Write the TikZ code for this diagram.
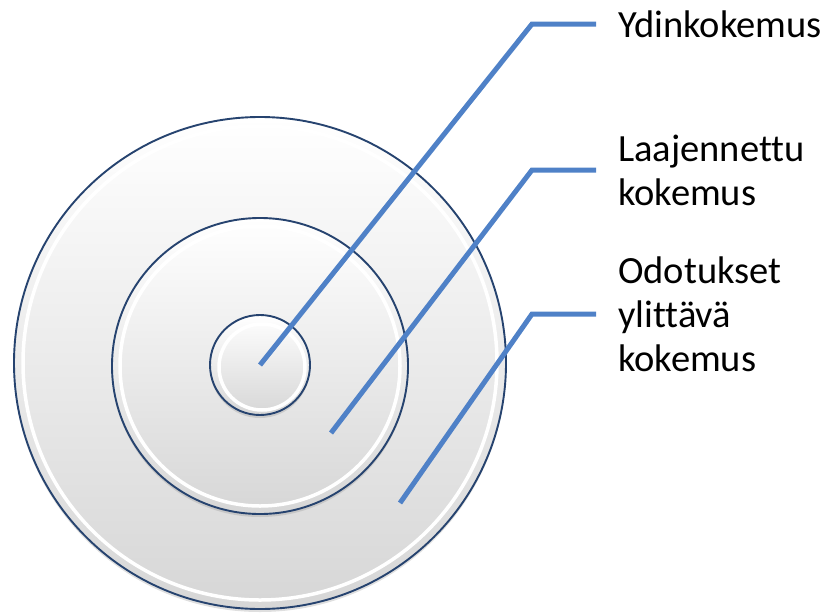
\documentclass[tikz,border=0pt]{standalone}
\usepackage{fontspec}
\setmainfont[Ligatures=NoCommon]{Carlito}
\usetikzlibrary{positioning,calc,shadows}
\definecolor{rim}{HTML}{26436F}
\definecolor{lead}{HTML}{4F81C7}
\tikzset{
  disc/.style={circle,draw=rim,line width=1.9pt,top color=white,bottom color=gray!32,inner sep=0pt,
    drop shadow={opacity=0.25,shadow xshift=0pt,shadow yshift=-3pt}},
  bevel/.style={circle,draw=white,line width=3.5pt,inner sep=0pt},
  leader/.style={draw=lead,line width=5pt},
  caption/.style={font=\fontsize{38.5}{44}\selectfont,align=left,inner sep=0pt},
}
\begin{document}
\begin{tikzpicture}[x=1pt,y=-1pt]
\useasboundingbox (0,0) rectangle (832,613);

% rings
\node[disc,minimum size=492pt] (outer) at (260,363) {};
\node[bevel,minimum size=474pt] (outerbevel) at (260,363) {};
\node[disc,minimum size=296pt] (middle) at (260,366) {};
\node[bevel,minimum size=280pt] (middlebevel) at (260,366) {};
\node[disc,minimum size=100pt] (inner) at (260,365) {};
\node[bevel,minimum size=86pt] (innerbevel) at (262,367) {};

% leader end points
\coordinate (corepin) at (260,365);
\coordinate (widepin) at (331,433);
\coordinate (beyondpin) at (400,503);
\coordinate (corebend) at (532,24);
\coordinate (widebend) at (532,170);
\coordinate (beyondbend) at (532,314);
\coordinate (coretip) at (596,24);
\coordinate (widetip) at (596,170);
\coordinate (beyondtip) at (596,314);

% captions
\node[caption,right=22pt of coretip] (corelbl) {Ydinkokemus};
\node[caption,right=22pt of widetip] (widelbl) {Laajennettu\\kokemus};
\node[caption,right=22pt of beyondtip] (beyondlbl) {Odotukset\\ylittävä\\kokemus};

\draw[leader] (corepin) -- (corebend) -- (coretip);
\draw[leader] (widepin) -- (widebend) -- (widetip);
\draw[leader] (beyondpin) -- (beyondbend) -- (beyondtip);
\end{tikzpicture}
\end{document}
